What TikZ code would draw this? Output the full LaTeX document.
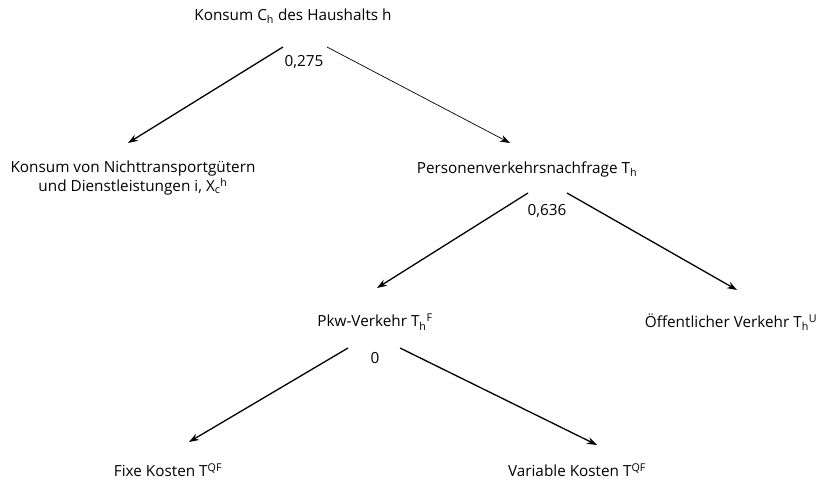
\documentclass[tikz,border=0pt]{standalone}
\usepackage{fontspec}
\setmainfont{Open Sans}
\usetikzlibrary{arrows.meta}

\begin{document}
\begin{tikzpicture}[x=1pt,y=-1pt,font=\fontsize{15.3}{19}\selectfont,
    pfeil/.style={line width=1.3pt,-{Stealth[length=10pt,width=7pt]}}]
      \useasboundingbox (0,0) rectangle (824,481);
      % level 0
      \node (konsum) at (293,16) {Konsum C\textsubscript{h} des Haushalts h};
      \node (w1) at (304,62) {0,275}; % weight
      % level 1
      \node[align=center] (nicht) at (133,178) {Konsum von Nichttransportgütern\\und Dienstleistungen i, X\textsubscript{c}\textsuperscript{h}};
      \node (pers) at (527,169) {Personenverkehrsnachfrage T\textsubscript{h}};
      \node (w2) at (547,211) {0,636}; % weight
      % level 2
      \node (pkw) at (375,322) {Pkw-Verkehr T\textsubscript{h}\textsuperscript{F}};
      \node (oev) at (731,322) {Öffentlicher Verkehr T\textsubscript{h}\textsuperscript{U}};
      \node (w3) at (375,358) {0}; % weight
      % level 3
      \node (fix) at (168,470) {Fixe Kosten T\textsuperscript{QF}};
      \node (var) at (577,470) {Variable Kosten T\textsuperscript{QF}};

      % connectors
      \draw[pfeil] ([shift={(-10,31)}]konsum.center) -- ([shift={(-5,-35)}]nicht.center);
      \draw[pfeil,line width=0.7pt] ([shift={(34,31)}]konsum.center) -- ([shift={(-17,-26)}]pers.center);
      \draw[pfeil] ([shift={(1,24)}]pers.center) -- ([shift={(2,-34)}]pkw.center);
      \draw[pfeil] ([shift={(40,24)}]pers.center) -- ([shift={(6,-32)}]oev.center);
      \draw[pfeil] ([shift={(-27,26)}]pkw.center) -- ([shift={(21,-28)}]fix.center);
      \draw[pfeil] ([shift={(25,26)}]pkw.center) -- ([shift={(20,-25)}]var.center);
    \end{tikzpicture}
\end{document}
